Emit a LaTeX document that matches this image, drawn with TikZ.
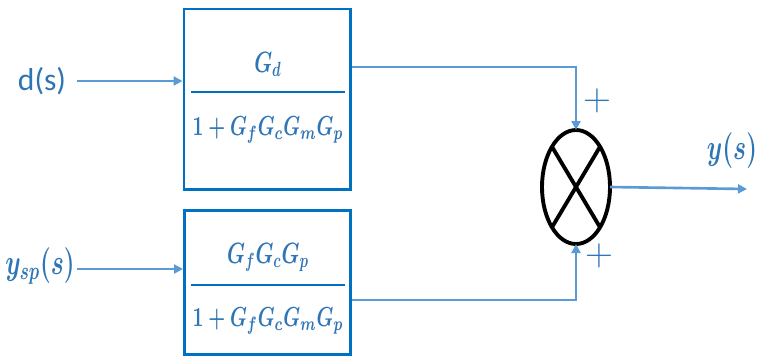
\RequirePackage{fix-cm}
\documentclass[tikz,border=0pt]{standalone}
\usepackage{amsmath}
\usepackage{fontspec}
\newfontfamily\labelfont{Carlito}
\usetikzlibrary{arrows.meta,positioning,shapes.geometric}
\definecolor{boxblue}{RGB}{0,112,192}
\definecolor{wireblue}{RGB}{91,155,213}
\definecolor{textblue}{RGB}{46,117,182}
\newcommand{\tallmath}[1]{\scalebox{1}[1.45]{\boldmath$#1$}}

\begin{document}
\begin{tikzpicture}[x=0.2mm,y=-0.2mm,
    blk/.style={draw=boxblue,line width=1.7pt,minimum width=3.32cm,inner sep=0pt},
    tf/.style={text=textblue,font=\fontsize{10.8}{14}\selectfont,inner sep=0pt,anchor=base},
    sig/.style={text=textblue,font=\fontsize{14}{17}\selectfont,inner sep=1pt},
    barline/.style={line width=1.6pt,boxblue},
    a/.style={-{Triangle[length=1.8mm,width=1.8mm]},line width=1.5pt,wireblue}]
  \useasboundingbox (0,0) rectangle (759,358);
  % the two transfer blocks
  \node[blk,minimum height=3.6cm] (g1) at (267,99) {};
  \node[blk,minimum height=2.88cm] (g2) at (267.5,282) {};
  \node[tf,font=\fontsize{11.5}{14}\selectfont] (n1) at (268,72) {\tallmath{G_d}};
  \node[tf] (d1) at (268,135) {\tallmath{1+G_fG_cG_mG_p}};
  \draw[barline] (191,92) -- (345,92);
  \node[tf,font=\fontsize{11.5}{14}\selectfont] (n2) at (268,263) {\tallmath{G_fG_cG_p}};
  \node[tf] (d2) at (268,326) {\tallmath{1+G_fG_cG_mG_p}};
  \draw[barline] (191,285) -- (345,285);
  % summing junction
  \node[draw=black,ellipse,line width=2.2pt,minimum width=1.36cm,minimum height=2.28cm,
    inner sep=0pt,outer sep=0pt] (sum) at (576,187) {};
  \draw[line width=2.2pt] (sum.north west) -- (sum.south east) (sum.north east) -- (sum.south west);
  \node[sig,font=\fontsize{22}{26}\selectfont] (p1) at (597,101) {$+$};
  \node[sig,font=\fontsize{22}{26}\selectfont] (p2) at (599,256) {$+$};
  % signals
  \node[sig,font=\labelfont\fontsize{18}{21}\selectfont] (ds) at (42,81) {d(s)};
  \node[sig] (ysp) at (40,266) {\tallmath{y_{sp}(s)}};
  \node[sig] (ys) at (732,151) {\tallmath{y(s)}};
  \coordinate (yout) at (747,189);
  \draw[a,shorten <=0.18cm] (ds.east) -- (ds.east -| g1.west);
  \draw[a] ([yshift=-0.06cm]ysp.east) -- ([yshift=-0.06cm]ysp.east -| g2.west);
  \draw[a] ([yshift=0.64cm]g1.east) -| (sum.north);
  \draw[a] ([yshift=-0.36cm]g2.east) -| (sum.south);
  \draw[a] (sum.east) -- (yout);
\end{tikzpicture}
\end{document}
